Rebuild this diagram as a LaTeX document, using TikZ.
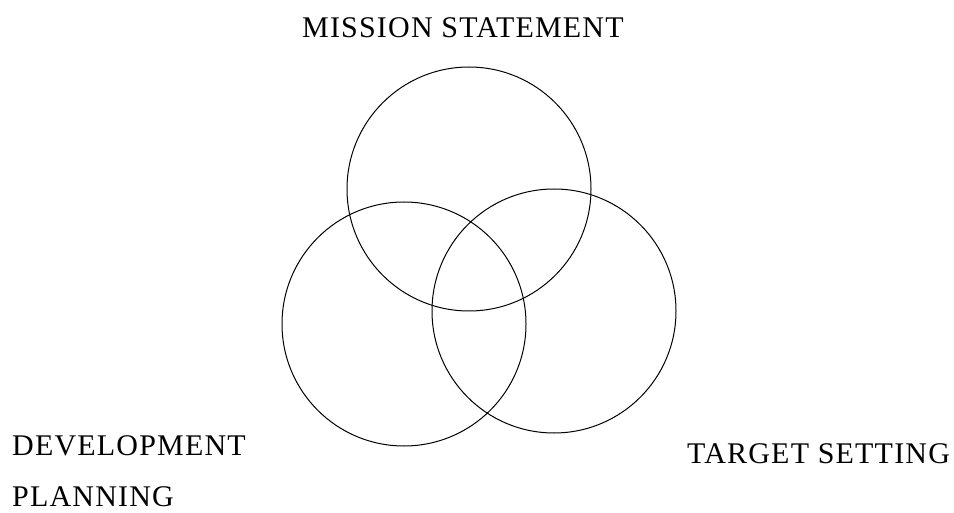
\documentclass[tikz,border=0pt]{standalone}
\usepackage{fontspec}
\setmainfont{Liberation Serif}
\newfontfamily\labelfont[LetterSpace=4]{Liberation Serif}
\usepackage{tikz}

\tikzset{
  ring/.style={draw, circle, line width=1pt, minimum size=244pt, inner sep=0pt},
  label/.style={anchor=base west, inner sep=0pt, font=\labelfont\fontsize{30}{34}\selectfont}
}

\begin{document}
\begin{tikzpicture}[x=1pt, y=-1pt]

\useasboundingbox (0,0) rectangle (954,513);

\node[ring] (mission) at (469,189) {};
\node[ring] (develop) at (404,324) {};
\node[ring] (target)  at (554,311) {};

\node[label] (missiontext) at (302,38) {MISSION STATEMENT};
\node[label] (developtext) at (12,455) {DEVELOPMENT};
\node[label] (planningtext) at (12,506) {PLANNING};
\node[label] (targettext) at (687,463) {TARGET SETTING};

\end{tikzpicture}
\end{document}
